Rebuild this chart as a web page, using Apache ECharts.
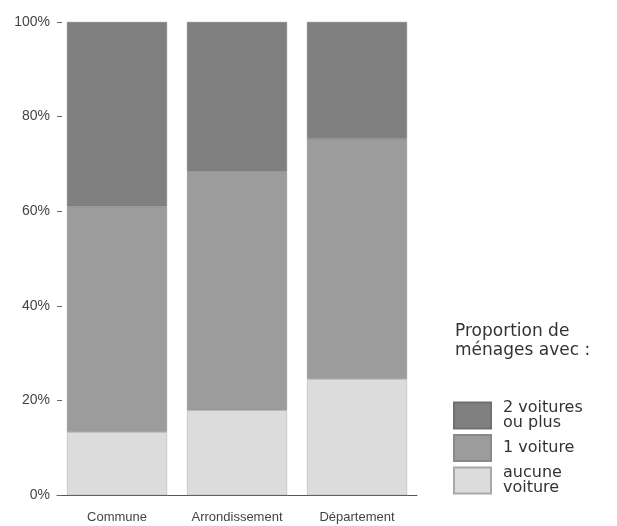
<!DOCTYPE html>
<html>
<head>
<meta charset="utf-8">
<script src="https://cdn.jsdelivr.net/npm/echarts@6/dist/echarts.min.js"></script>
<style>html,body{margin:0;padding:0;background:#fff}#c{width:617px;height:526px}</style>
</head>
<body>
<div id="c"></div>
<script>
var categories = ['Commune', 'Arrondissement', 'Département'];
var aucuneVoiture = [13.3, 17.9, 24.5];
var uneVoiture = [47.7, 50.5, 50.8];
var deuxVoitures = [39.0, 31.6, 24.7];
var seriesNames = ['2 voitures ou plus', '1 voiture', 'aucune voiture'];
var legendLabels = {'2 voitures ou plus': '2 voitures\nou plus', '1 voiture': '1 voiture', 'aucune voiture': 'aucune\nvoiture'};
var yTicks = [0, 20, 40, 60, 80, 100];

var chart = echarts.init(document.getElementById('c'));
chart.setOption({
  animation: false,
  backgroundColor: '#ffffff',
  textStyle: {fontFamily: 'Liberation Sans, Arial, sans-serif'},
  title: {
    text: 'Proportion de\nménages avec :',
    left: 455, top: 322, padding: 0,
    textStyle: {fontSize: 17, fontWeight: 'normal', color: '#333', lineHeight: 19, fontFamily: 'DejaVu Sans'}
  },
  legend: {
    orient: 'vertical',
    left: 453, top: 400, padding: 0,
    itemWidth: 37, itemHeight: 26, itemGap: 3,
    icon: 'rect',
    data: seriesNames,
    formatter: function (n) { return legendLabels[n]; },
    textStyle: {fontSize: 16, color: '#333', lineHeight: 15, padding: [0, 0, 0, 7], fontFamily: 'DejaVu Sans'}
  },
  grid: {left: 57, top: 22, width: 360, bottom: 31},
  xAxis: {
    type: 'category',
    data: categories,
    axisLine: {lineStyle: {color: '#555', width: 1}},
    axisTick: {show: false},
    axisLabel: {fontSize: 13, color: '#444', margin: 16, interval: 0}
  },
  yAxis: {
    type: 'value',
    min: yTicks[0], max: yTicks[yTicks.length - 1], interval: 20,
    axisLine: {show: false},
    axisTick: {show: true, inside: true, length: 5, lineStyle: {color: '#666'}},
    splitLine: {show: false},
    axisLabel: {fontSize: 14, color: '#444', margin: 7, formatter: '{value}%'}
  },
  series: [
    {name: 'aucune voiture', type: 'bar', stack: 't', barWidth: 100, data: aucuneVoiture,
     itemStyle: {color: '#dcdcdc', borderColor: '#a8a8a8', borderWidth: 0.5}},
    {name: '1 voiture', type: 'bar', stack: 't', barWidth: 100, data: uneVoiture,
     itemStyle: {color: '#9c9c9c', borderColor: '#8a8a8a', borderWidth: 0.5}},
    {name: '2 voitures ou plus', type: 'bar', stack: 't', barWidth: 100, data: deuxVoitures,
     itemStyle: {color: '#808080', borderColor: '#707070', borderWidth: 0.5}}
  ]
});
</script>
</body>
</html>
